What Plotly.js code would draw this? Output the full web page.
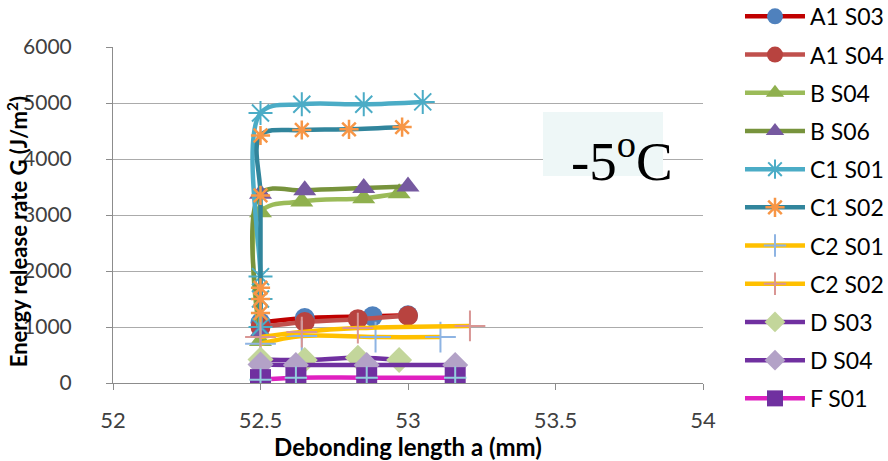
<!DOCTYPE html>
<html>
<head>
<meta charset="utf-8">
<script src="https://cdn.plot.ly/plotly-3.0.1.min.js"></script>
<style>html,body{margin:0;padding:0;background:#fff;}#chart{width:888px;height:461px;}</style>
</head>
<body>
<div id="chart"></div>
<script>
// Series names (legend order)
var seriesNames = ["A1 S03","A1 S04","B S04","B S06","C1 S01","C1 S02","C2 S01","C2 S02","D S03","D S04","F S01"];

// Debonding length a (mm) and energy release rate G (J/m2)
var xA1S03 = [52.5, 52.65, 52.88, 53.0];
var yA1S03 = [1080, 1160, 1190, 1210];
var xA1S04 = [52.5, 52.65, 52.83, 53.0];
var yA1S04 = [1000, 1090, 1140, 1200];
var xBS04 = [52.5, 52.5, 52.64, 52.85, 52.97];
var yBS04 = [750, 3050, 3240, 3300, 3390];
var xBS06 = [52.5, 52.5, 52.65, 52.85, 53.0];
var yBS06 = [900, 3380, 3440, 3480, 3510];
var xC1S01 = [52.5, 52.5, 52.5, 52.5, 52.64, 52.85, 53.05];
var yC1S01 = [1000, 1500, 1900, 4820, 4977, 4977, 5020];
var xC1S02 = [52.5, 52.5, 52.5, 52.5, 52.5, 52.64, 52.8, 52.98];
var yC1S02 = [1250, 1500, 1700, 3350, 4420, 4518, 4530, 4570];
var xC2S01 = [52.5, 52.64, 52.89, 53.11];
var yC2S01 = [700, 840, 820, 820];
var xC2S02 = [52.5, 52.64, 52.83, 53.21];
var yC2S02 = [820, 910, 980, 1020];
var xDS03 = [52.5, 52.65, 52.83, 52.97];
var yDS03 = [420, 410, 450, 410];
var xDS04 = [52.5, 52.62, 52.86, 53.16];
var yDS04 = [330, 320, 320, 320];
var xFS01 = [52.5, 52.62, 52.86, 53.16];
var yFS01 = [60, 95, 95, 95];

var xTicks = [52, 52.5, 53, 53.5, 54];
var yTicks = [0, 1000, 2000, 3000, 4000, 5000, 6000];

function tr(i, x, y, lineColor, sym, mColor, mSize, mLine) {
  return {
    type: 'scatter', mode: 'lines+markers', name: seriesNames[i],
    x: x, y: y, legendgroup: 'g' + i,
    line: {color: lineColor, width: 4.5, shape: 'spline', smoothing: 1},
    marker: {symbol: sym, color: mColor, size: mSize, line: mLine || {width: 0}}
  };
}

var traces = [
  tr(0, xA1S03, yA1S03, '#C00000', 'circle', '#4F81BD', 20),
  tr(1, xA1S04, yA1S04, '#C0504D', 'circle', '#B8433F', 20),
  tr(2, xBS04, yBS04, '#9BBB59', 'triangle-up', '#8FB04E', 20),
  tr(3, xBS06, yBS06, '#77933C', 'triangle-up', '#7659A0', 20),
  tr(4, xC1S01, yC1S01, '#4BACC6', 'asterisk-open', '#4BACC6', 20, {color: '#4BACC6', width: 2}),
  tr(5, xC1S02, yC1S02, '#31859C', 'asterisk-open', '#F79646', 16, {color: '#E8822E', width: 2.5}),
  tr(6, xC2S01, yC2S01, '#FFC000', 'cross-thin-open', '#8EB4E3', 22, {color: '#8EB4E3', width: 2}),
  tr(7, xC2S02, yC2S02, '#FFC000', 'cross-thin-open', '#D99694', 22, {color: '#D99694', width: 2}),
  tr(8, xDS03, yDS03, '#7030A0', 'diamond', '#C3D69B', 20),
  tr(9, xDS04, yDS04, '#7030A0', 'diamond', '#B3A2C7', 20),
  tr(10, xFS01, yFS01, '#E020C0', 'square', '#7030A0', 21)
];
// light-blue cross inside the F S01 squares
traces.push({
  type: 'scatter', mode: 'markers', x: xFS01, y: yFS01, showlegend: false,
  legendgroup: 'g10', hoverinfo: 'skip',
  marker: {symbol: 'cross-thin-open', size: 16, color: '#93CDDD', line: {color: '#93CDDD', width: 2}}
});

var layout = {
  width: 888, height: 461,
  margin: {l: 113, r: 185, t: 47, b: 78, pad: 0, autoexpand: false},
  paper_bgcolor: '#ffffff', plot_bgcolor: '#ffffff',
  font: {family: 'Lato, "Open Sans", sans-serif', color: '#404040'},
  showlegend: true,
  xaxis: {
    range: [52, 54], tickvals: xTicks, ticktext: xTicks.map(String),
    showgrid: false, zeroline: false, showline: true, linecolor: '#8C8C8C', linewidth: 1,
    ticks: 'outside', ticklen: 6, tickcolor: '#8C8C8C',
    tickfont: {size: 22, color: '#404040'}, ticklabelstandoff: 12,
    title: {text: 'Debonding length a (mm)', font: {size: 24, color: '#000', family: 'Lato, sans-serif', weight: 'bold'}, standoff: 3}
  },
  yaxis: {
    range: [0, 6000], tickvals: yTicks, ticktext: yTicks.map(String),
    showgrid: true, gridcolor: '#ABABAB', gridwidth: 1, zeroline: false,
    showline: true, linecolor: '#8C8C8C', linewidth: 1,
    ticks: 'outside', ticklen: 6, tickcolor: '#8C8C8C',
    tickfont: {size: 21, color: '#404040'}, ticklabelstandoff: 30
  },
  legend: {
    x: 1.0627, y: 1.155, xanchor: 'left', yanchor: 'top',
    font: {size: 23, color: '#000', family: 'Lato, sans-serif'},
    tracegroupgap: 5.3, itemwidth: 60, bgcolor: 'rgba(0,0,0,0)', maxheight: 480
  },
  shapes: [{
    type: 'rect', xref: 'paper', yref: 'paper', x0: 0.7288, x1: 0.9322, y0: 0.616, y1: 0.8065,
    fillcolor: '#EEF7F7', line: {width: 0}, layer: 'above'
  }],
  annotations: [{
    xref: 'paper', yref: 'paper', x: 0.862, y: 0.6726, xanchor: 'center', yanchor: 'middle',
    text: '-5<sup>o</sup>C', showarrow: false,
    font: {family: '"Liberation Serif", "Times New Roman", serif', size: 55, color: '#000'}
  }, {
    xref: 'paper', yref: 'paper', x: -0.162, y: 0.45, xanchor: 'center', yanchor: 'middle',
    textangle: -90, showarrow: false,
    text: 'Energy release rate G (J/m<sup>2</sup>)',
    font: {size: 22, color: '#000', family: 'Lato, sans-serif', weight: 'bold'}
  }]
};

Plotly.newPlot('chart', traces, layout, {displayModeBar: false, staticPlot: true});
</script>
</body>
</html>
